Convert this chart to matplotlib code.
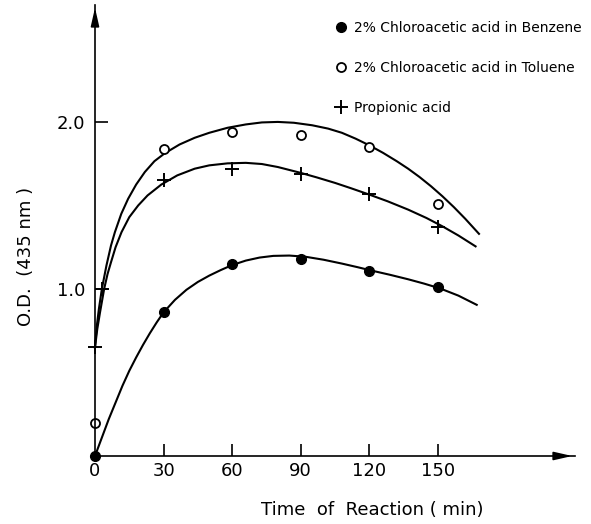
import numpy as np
import matplotlib
matplotlib.use("Agg")
import matplotlib.pyplot as plt

# measured points (time in min, O.D. at 435 nm)
t_benz = [0, 30, 60, 90, 120, 150]
od_benz = [0.0, 0.86, 1.15, 1.18, 1.11, 1.01]

t_tol = [0, 30, 60, 90, 120, 150]
od_tol = [0.20, 1.84, 1.94, 1.92, 1.85, 1.51]

t_prop = [0, 3, 30, 60, 90, 120, 150]
od_prop = [0.65, 1.0, 1.65, 1.72, 1.69, 1.57, 1.37]

# hand-drawn fitted curves
ct_benz = [0, 3, 6, 9, 12, 15, 18, 21, 24, 27, 30, 35, 40, 45, 50, 55, 60, 66, 72, 78,
           85, 92, 100, 108, 115, 121, 129, 137, 144, 151, 159, 167]
cv_benz = [0.0, 0.11, 0.22, 0.32, 0.42, 0.51, 0.59, 0.665, 0.735, 0.80, 0.86, 0.935, 0.995, 1.042,
           1.08, 1.113, 1.143, 1.17, 1.188, 1.198, 1.20, 1.193, 1.175, 1.152, 1.13, 1.11, 1.085,
           1.058, 1.032, 1.003, 0.96, 0.905]

ct_tol = [0, 0.8, 1.7, 3.0, 5.0, 7.0, 8.7, 11.5, 14.5, 18, 21.8, 26, 30.5, 37, 43.6, 50, 58, 66,
          73, 80, 87, 95, 102, 108, 114, 120, 126, 132, 137, 142, 147, 152, 157, 162, 168]
cv_tol = [0.65, 0.78, 0.88, 1.0, 1.14, 1.26, 1.34, 1.45, 1.54, 1.625, 1.70, 1.765, 1.812, 1.865,
          1.905, 1.935, 1.965, 1.985, 1.997, 2.00, 1.995, 1.98, 1.96, 1.935, 1.90, 1.86, 1.815,
          1.765, 1.72, 1.67, 1.615, 1.555, 1.49, 1.42, 1.33]

ct_prop = [0, 1.0, 2.2, 4.0, 5.5, 7.0, 9.0, 11.6, 15, 18.9, 23, 29, 36, 43.6, 50, 58, 66, 73, 80,
           90, 97, 105, 112, 120, 128, 137, 145, 152, 159, 166.5]
cv_prop = [0.65, 0.76, 0.86, 1.0, 1.09, 1.16, 1.25, 1.34, 1.43, 1.50, 1.56, 1.625, 1.68, 1.72,
           1.74, 1.752, 1.755, 1.748, 1.73, 1.695, 1.668, 1.635, 1.603, 1.565, 1.525, 1.475,
           1.425, 1.375, 1.32, 1.255]

fig = plt.figure(figsize=(5.91, 5.24), dpi=100)
ax = fig.add_axes([95 / 591, 68 / 524, 480 / 591, 451 / 524])

lw = 1.5
for ct, cv in [(ct_benz, cv_benz), (ct_tol, cv_tol), (ct_prop, cv_prop)]:
    ax.plot(ct, cv, color="black", linewidth=lw, clip_on=False, solid_joinstyle="round")

h1, = ax.plot(t_benz, od_benz, "o", color="black", markersize=7, linestyle="none", clip_on=False,
              label="2% Chloroacetic acid in Benzene")
h2, = ax.plot(t_tol, od_tol, "o", markerfacecolor="white", markeredgecolor="black", markersize=6.5,
              markeredgewidth=1.3, linestyle="none", clip_on=False, label="2% Chloroacetic acid in Toluene")
h3, = ax.plot(t_prop, od_prop, "+", color="black", markersize=10, markeredgewidth=1.4,
              linestyle="none", clip_on=False, label="Propionic acid")

ax.set_xlim(0, 210)
ax.set_ylim(0, 2.7)

ax.spines["top"].set_visible(False)
ax.spines["right"].set_visible(False)
ax.spines["left"].set_linewidth(1.2)
ax.spines["bottom"].set_linewidth(1.2)

ax.set_xticks([0, 30, 60, 90, 120, 150])
ax.set_yticks([1.0, 2.0])
ax.set_yticklabels(["1.0", "2.0"])
ax.tick_params(axis="both", direction="in", length=9, width=1.2, labelsize=13)
ax.tick_params(axis="x", pad=4)
ax.tick_params(axis="y", pad=7)
ax.xaxis.get_major_ticks()[0].tick1line.set_visible(False)

# arrowheads on the axes
ax.annotate("", xy=(1.0, 0), xytext=(0.95, 0), xycoords="axes fraction",
            arrowprops=dict(arrowstyle="-|>,head_length=1.1,head_width=0.25", color="black", lw=1.2))
ax.annotate("", xy=(0, 1.0), xytext=(0, 0.95), xycoords="axes fraction",
            arrowprops=dict(arrowstyle="-|>,head_length=1.1,head_width=0.25", color="black", lw=1.2))

ax.set_xlabel("Time  of  Reaction ( min)", fontsize=13)
ax.xaxis.set_label_coords(0.577, -0.100)
ax.set_ylabel("O.D.  (435 nm )", fontsize=13)
ax.yaxis.set_label_coords(-0.125, 0.443)

ax.legend(handles=[h1, h2, h3], loc="upper left", bbox_to_anchor=(330 / 591, 1 - 15 / 524),
          bbox_transform=fig.transFigure, frameon=False, fontsize=10, handlelength=0.8,
          handletextpad=0.5, labelspacing=1.9, borderaxespad=0)

plt.savefig("out.png", dpi=100)
print("Saved out.png")
